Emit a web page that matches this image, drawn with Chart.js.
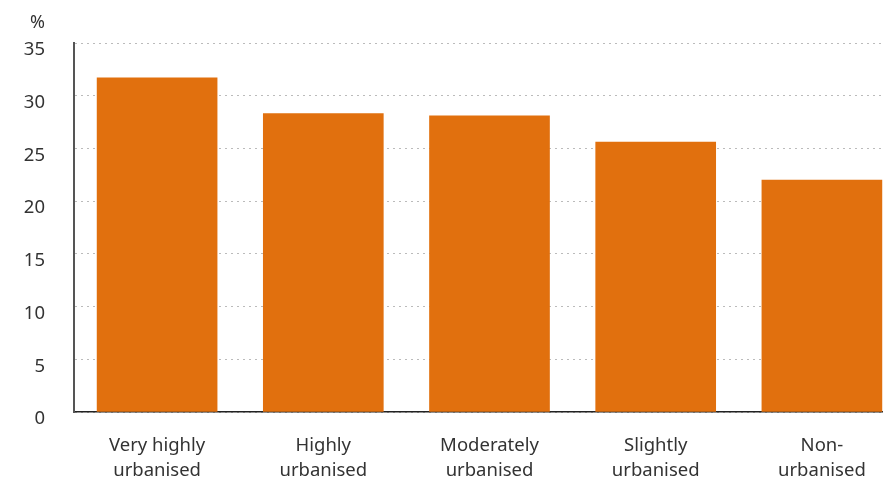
<!DOCTYPE html>
<html>
<head>
<meta charset="utf-8">
<script src="https://cdn.jsdelivr.net/npm/chart.js@4"></script>
<style>
  html, body { margin: 0; padding: 0; background: #fff; overflow: hidden; }
  #wrap { width: 905px; height: 484px; }
</style>
</head>
<body>
<div id="wrap"><canvas id="chart" width="905" height="484"></canvas></div>
<script>
const categories = [
  ["Very highly", "urbanised"],
  ["Highly", "urbanised"],
  ["Moderately", "urbanised"],
  ["Slightly", "urbanised"],
  ["Non-", "urbanised"]
];
const shares = [31.7, 28.3, 28.1, 25.6, 22.0];
const yMin = 0, yMax = 35, yStep = 5;
const unitLabel = "%";

const FONT = "'Noto Sans', 'Open Sans', sans-serif";

// draws the unit label above the y tick labels
const unitPlugin = {
  id: "unitLabel",
  afterDraw(chart) {
    const ctx = chart.ctx;
    ctx.save();
    ctx.font = "18px " + FONT;
    ctx.fillStyle = "#333";
    ctx.textAlign = "right";
    ctx.textBaseline = "alphabetic";
    ctx.fillText(unitLabel, 45, 28);
    ctx.restore();
  }
};

new Chart("chart", {
  type: "bar",
  data: {
    labels: categories,
    datasets: [{
      data: shares,
      backgroundColor: "#E1700E",
      borderWidth: 0,
      barThickness: 120
    }]
  },
  options: {
    responsive: false,
    animation: false,
    devicePixelRatio: 1,
    layout: { padding: { top: 43, left: 0, right: 0, bottom: 0 } },
    plugins: {
      legend: { display: false },
      tooltip: { enabled: false },
      title: { display: false }
    },
    scales: {
      x: {
        grid: { display: false, drawTicks: false },
        border: { display: true, color: "#222", width: 1.5 },
        ticks: {
          color: "#333",
          font: { family: FONT, size: 18.5, lineHeight: 1.37 },
          padding: 21,
          maxRotation: 0
        },
        afterFit: (s) => { s.height = 72; }
      },
      y: {
        min: yMin,
        max: yMax,
        grid: { color: "#bbb", lineWidth: 1, drawTicks: false },
        border: { display: true, color: "#555", width: 2, dash: [2, 4] },
        ticks: {
          stepSize: yStep,
          color: "#333",
          font: { family: FONT, size: 18.5 },
          padding: 29,
          labelOffset: 7
        },
        afterFit: (s) => { s.width = 74; }
      }
    }
  },
  plugins: [unitPlugin]
});
</script>
</body>
</html>
